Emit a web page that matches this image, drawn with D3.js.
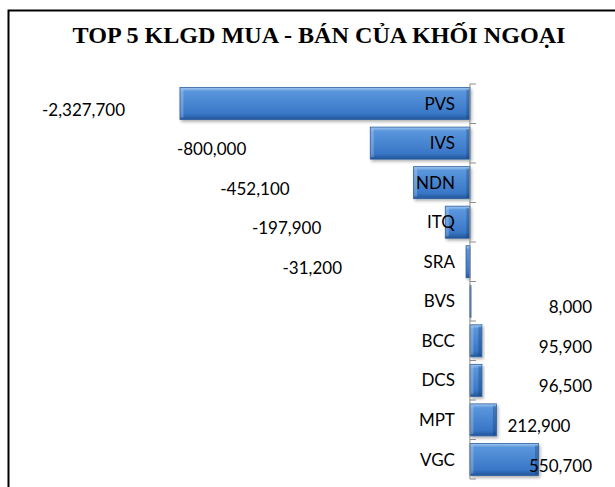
<!DOCTYPE html>
<html lang="vi">
    <head>
        <meta charset="utf-8">
        <title>Top 5 KLGD</title>
        <script type="text/javascript" src="https://d3js.org/d3.v7.min.js"></script>
        <style type="text/css">
            body { margin: 0; background: #fff; }
            svg text { font-family: Lato, "Open Sans", sans-serif; }
        </style>
    </head>
    <body>
        <script type="text/javascript">

                const width = 615;
                const height = 487;

                // data
                const tickers = ["PVS", "IVS", "NDN", "ITQ", "SRA", "BVS", "BCC", "DCS", "MPT", "VGC"];
                const volumes = [-2327700, -800000, -452100, -197900, -31200, 8000, 95900, 96500, 212900, 550700];
                const axisMin = -2500000;
                const axisMax = 1000000;

                const rows = tickers.map((t, i) => ({ticker: t, value: volumes[i]}));

                const xScale = d3.scaleLinear()
                                .domain([axisMin, axisMax])
                                .range([158.5, 594.5]);

                const yScale = d3.scaleBand()
                                .domain(tickers)
                                .range([84, 479])
                                .paddingInner(0.19)
                                .paddingOuter(0.09);

                // plain hyphen for negatives, like excel
                const fmt = d3.formatLocale({decimal: ".", thousands: ",", grouping: [3], currency: ["", ""], minus: "-"}).format(",");

                const svg = d3.select("body")
                            .append("svg")
                            .attr("width", width)
                            .attr("height", height);

                // bevel-ish gradient like the excel bars
                const defs = svg.append("defs");
                const grad = defs.append("linearGradient")
                                 .attr("id", "barGrad")
                                 .attr("x1", 0).attr("y1", 0).attr("x2", 0).attr("y2", 1);
                grad.append("stop").attr("offset", "0%").attr("stop-color", "#a4cbf3");
                grad.append("stop").attr("offset", "12%").attr("stop-color", "#5a96dc");
                grad.append("stop").attr("offset", "82%").attr("stop-color", "#3977c7");
                grad.append("stop").attr("offset", "100%").attr("stop-color", "#22559a");

                const shadow = defs.append("filter").attr("id", "shadow")
                                   .attr("x", "-10%").attr("y", "-20%").attr("width", "130%").attr("height", "160%");
                shadow.append("feDropShadow")
                      .attr("dx", 1.5).attr("dy", 2).attr("stdDeviation", 1.5)
                      .attr("flood-color", "#000").attr("flood-opacity", 0.3);

                // frame: only left and top edges show in the crop
                svg.append("path")
                   .attr("d", "M8.5,487V10.5H615")
                   .attr("fill", "none")
                   .attr("stroke", "#000")
                   .attr("stroke-width", 2);

                // title
                svg.append("text")
                   .attr("x", 319)
                   .attr("y", 43)
                   .attr("text-anchor", "middle")
                   .attr("textLength", 493)
                   .attr("lengthAdjust", "spacingAndGlyphs")
                   .style("font-family", "'Liberation Serif', 'Times New Roman', serif")
                   .style("font-weight", "bold")
                   .style("font-size", "23px")
                   .text("TOP 5 KLGD MUA - BÁN CỦA KHỐI NGOẠI");

                // bars
                const barX = d => xScale(Math.min(0, d.value));
                const barW = d => Math.max(1, Math.abs(xScale(d.value) - xScale(0)));

                const bars = svg.selectAll("g.bar")
                    .data(rows)
                    .enter()
                    .append("g")
                    .attr("class", "bar");

                bars.append("rect")
                    .attr("x", barX)
                    .attr("y", d => yScale(d.ticker))
                    .attr("width", barW)
                    .attr("height", yScale.bandwidth())
                    .attr("fill", "url(#barGrad)")
                    .attr("stroke", "#2d5f9e")
                    .attr("stroke-width", 0.8)
                    .attr("filter", "url(#shadow)");

                // side bevel strips
                bars.filter(d => barW(d) > 8).append("rect")
                    .attr("x", d => barX(d) + 0.5)
                    .attr("y", d => yScale(d.ticker) + 2)
                    .attr("width", 3)
                    .attr("height", yScale.bandwidth() - 4)
                    .attr("fill", "#fff")
                    .attr("opacity", 0.22);
                bars.filter(d => barW(d) > 8).append("rect")
                    .attr("x", d => barX(d) + barW(d) - 3.5)
                    .attr("y", d => yScale(d.ticker) + 2)
                    .attr("width", 3)
                    .attr("height", yScale.bandwidth() - 3)
                    .attr("fill", "#0d2f5e")
                    .attr("opacity", 0.3);

                // category axis at zero, ticks between categories
                const axisX = xScale(0);
                const ax = svg.append("g");
                ax.append("line")
                  .attr("x1", axisX).attr("x2", axisX)
                  .attr("y1", yScale.range()[0]).attr("y2", yScale.range()[1])
                  .attr("stroke", "#8c8c8c");
                const bounds = d3.range(tickers.length + 1).map(i => yScale.range()[0] + i * (yScale.range()[1] - yScale.range()[0]) / tickers.length);
                ax.selectAll("line.tick")
                  .data(bounds)
                  .enter()
                  .append("line")
                  .attr("class", "tick")
                  .attr("x1", axisX).attr("x2", axisX + 6)
                  .attr("y1", d => d).attr("y2", d => d)
                  .attr("stroke", "#8c8c8c");

                ax.selectAll("text")
                  .data(tickers)
                  .enter()
                  .append("text")
                  .attr("x", axisX - 15)
                  .attr("y", d => yScale(d) + yScale.bandwidth() / 2)
                  .attr("dy", "0.36em")
                  .attr("text-anchor", "end")
                  .style("font-size", "17px")
                  .attr("fill", "#000")
                  .text(d => d);

                // value labels (placed roughly like the original)
                const labels = svg.selectAll("text.val")
                    .data(rows)
                    .enter()
                    .append("text")
                    .attr("class", "val")
                    .style("font-size", "17px")
                    .attr("y", d => yScale(d.ticker) + yScale.bandwidth() / 2 + 6)
                    .attr("dy", "0.36em")
                    .text(d => fmt(d.value));

                labels.each(function(d) {
                    const t = d3.select(this);
                    const w = this.getComputedTextLength();
                    if (d.value < 0) {
                        let end = xScale(d.value) - 124;
                        if (end - w < 42) end = 42 + w;
                        t.attr("x", end).attr("text-anchor", "end");
                    } else if (d.ticker === "MPT") {
                        t.attr("x", xScale(d.value) + 11).attr("text-anchor", "start");
                    } else {
                        t.attr("x", 592).attr("text-anchor", "end");
                    }
                });

        </script>
    </body>
</html>
